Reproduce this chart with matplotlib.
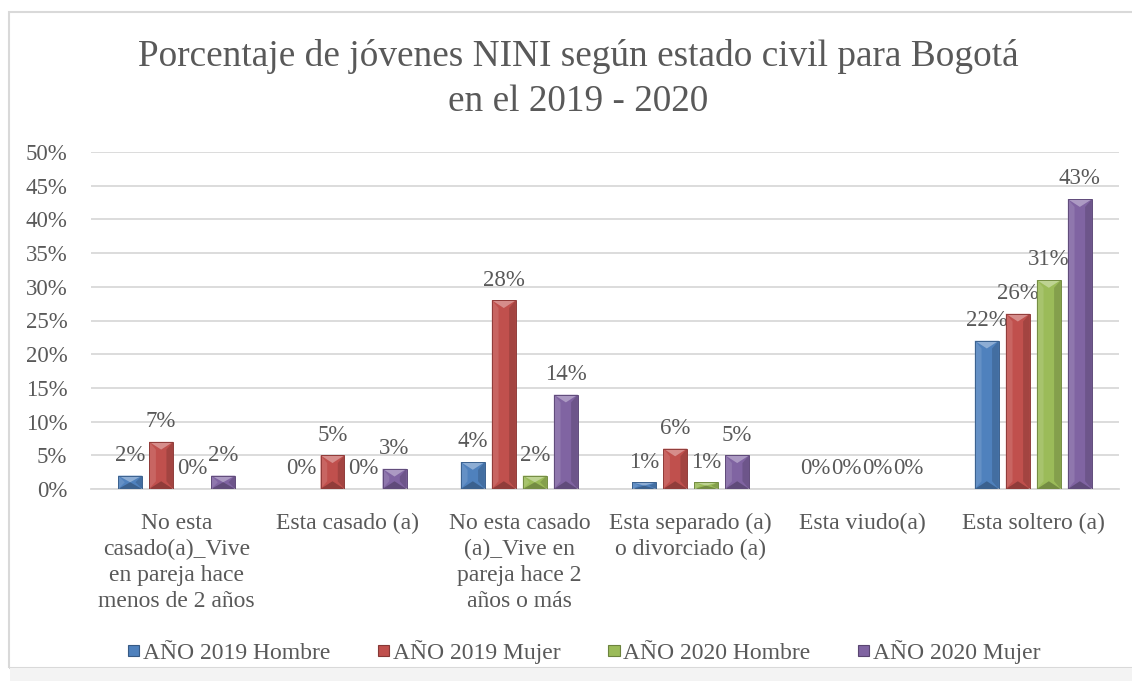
import numpy as np
import matplotlib.pyplot as plt
from matplotlib.patches import Polygon, Patch, Rectangle
import matplotlib.colors as mcolors

plt.rcParams['font.family'] = ['Liberation Serif', 'DejaVu Serif']

categorias = ["No esta\ncasado(a)_Vive\nen pareja hace\nmenos de 2 años",
              "Esta casado (a)",
              "No esta casado\n(a)_Vive en\npareja hace 2\naños o más",
              "Esta separado (a)\no divorciado (a)",
              "Esta viudo(a)",
              "Esta soltero (a)"]
series = ["AÑO 2019 Hombre", "AÑO 2019 Mujer", "AÑO 2020 Hombre", "AÑO 2020 Mujer"]
hombre_2019 = [2, 0, 4, 1, 0, 22]
mujer_2019 = [7, 5, 28, 6, 0, 26]
hombre_2020 = [0, 0, 2, 1, 0, 31]
mujer_2020 = [2, 3, 14, 5, 0, 43]
valores = [hombre_2019, mujer_2019, hombre_2020, mujer_2020]
colores = ['#4f81bd', '#c0504d', '#9bbb59', '#8064a2']
gris_texto = '#595959'
gris_linea = '#d9d9d9'


def tono(c, f):
    # f > 0 aclara, f < 0 oscurece
    r = np.array(mcolors.to_rgb(c))
    if f > 0:
        r = r + (1 - r) * f
    else:
        r = r * (1 + f)
    return tuple(r)


def bisel(ax, bar, color, dy):
    x0 = bar.get_x()
    w = bar.get_width()
    h = bar.get_height()
    if h <= 0:
        return
    x1 = x0 + w
    xc = x0 + w / 2
    d = min(dy, h / 2)
    s = 0.28 * w
    ax.add_patch(Polygon([(x0, 0), (x0, h), (x0 + s, h - d), (x0 + s, d)],
                         closed=True, color=tono(color, 0.12), lw=0, zorder=3))
    ax.add_patch(Polygon([(x1, 0), (x1, h), (x1 - s, h - d), (x1 - s, d)],
                         closed=True, color=tono(color, -0.15), lw=0, zorder=3))
    ax.add_patch(Polygon([(x0, h), (x1, h), (xc, h - d)],
                         closed=True, color=tono(color, 0.35), lw=0, zorder=3))
    ax.add_patch(Polygon([(x0, 0), (x1, 0), (xc, d)],
                         closed=True, color=tono(color, -0.25), lw=0, zorder=3))
    ax.add_patch(Rectangle((x0, 0), w, h, fill=False, ec=tono(color, -0.25),
                           lw=0.7, zorder=4))


fig = plt.figure(figsize=(11.32, 6.81), dpi=100)
ax = fig.add_axes([91 / 1132, 1 - 489 / 681, 1028 / 1132, 337 / 681])

# marco del grafico
fig.patches.append(Rectangle((9 / 1132, 1 - 668 / 681), 1.2, 656 / 681,
                             transform=fig.transFigure, fill=False,
                             ec=gris_linea, lw=1.5, zorder=0))
fig.patches.append(Rectangle((10 / 1132, 0), 1.2, 13 / 681,
                             transform=fig.transFigure, color='#f3f3f3',
                             lw=0, zorder=0))

x = np.arange(len(categorias))
ancho = 0.14
paso = 0.181
for i, (vals, col) in enumerate(zip(valores, colores)):
    pos = x + (i - 1.5) * paso
    barras = ax.bar(pos, vals, width=ancho, color=col, zorder=2, lw=0)
    for b, v in zip(barras, vals):
        bisel(ax, b, col, 1.15)
        ax.annotate(f"{v}%", (b.get_x() + b.get_width() / 2, v),
                    xytext=(0, 7), textcoords='offset points',
                    ha='center', va='bottom', fontsize=16.5, color=gris_texto)

ax.set_xlim(-0.5, len(categorias) - 0.5)
ax.set_ylim(0, 50)
ax.set_yticks(np.arange(0, 51, 5))
ax.set_yticklabels([f"{t}%" for t in range(0, 51, 5)])
ax.set_xticks(x)
ax.set_xticklabels(categorias, linespacing=1.3)
ax.tick_params(axis='y', length=0, pad=17, labelsize=16.5, labelcolor=gris_texto)
ax.tick_params(axis='x', length=0, pad=17.5, labelsize=17, labelcolor=gris_texto)
ax.grid(axis='y', color=gris_linea, lw=1.3, zorder=0)
ax.set_axisbelow(True)
for lado in ['top', 'right', 'left']:
    ax.spines[lado].set_visible(False)
ax.spines['bottom'].set_color(gris_linea)
ax.spines['bottom'].set_linewidth(1.3)

fig.text(578 / 1132, 1 - 79 / 681,
         "Porcentaje de jóvenes NINI según estado civil para Bogotá\nen el 2019 - 2020",
         ha='center', va='center', fontsize=26.8, color=gris_texto, linespacing=1.42)

manejadores = [Patch(facecolor=c, edgecolor=tono(c, -0.3), lw=0.8) for c in colores]
fig.legend(manejadores, series, loc='center', bbox_to_anchor=(584 / 1132, 1 - 652 / 681),
           ncol=4, frameon=False, fontsize=17, labelcolor=gris_texto,
           handlelength=0.5, handleheight=0.35, handletextpad=0.15, columnspacing=2.0)

fig.savefig("out.png", dpi=100)
